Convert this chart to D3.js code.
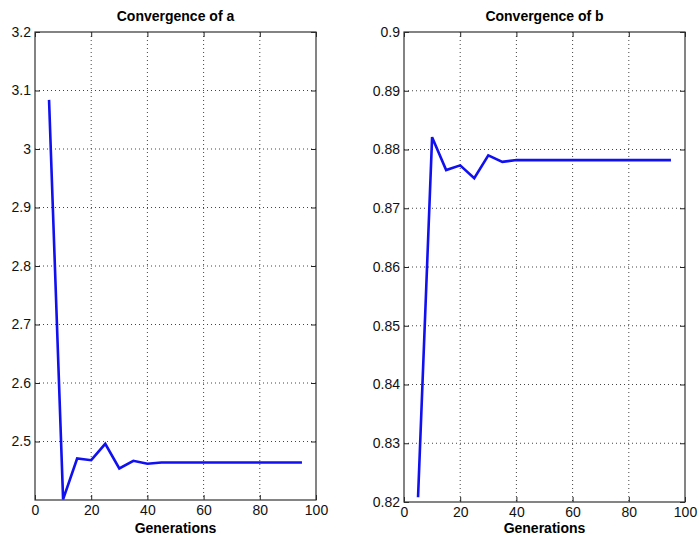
<!DOCTYPE html>
<html lang="en">
<head>
<meta charset="UTF-8">
<title>Convergence</title>
<script src="https://d3js.org/d3.v7.min.js"></script>
<style>
  body { margin: 0; background: #fff; }
  text { font-family: "Liberation Sans", Arial, sans-serif; }
</style>
</head>
<body>
<div id="chart"></div>
<script>
// generations sampled every 5
const generations = [5, 10, 15, 20, 25, 30, 35, 40, 45, 50, 55, 60, 65, 70, 75, 80, 85, 90, 95];
const valuesA = [3.084, 2.401, 2.471, 2.468, 2.496, 2.454, 2.467, 2.462, 2.464, 2.464, 2.464, 2.464, 2.464, 2.464, 2.464, 2.464, 2.464, 2.464, 2.464];
const valuesB = [0.8208, 0.8821, 0.8765, 0.8773, 0.8751, 0.8790, 0.8779, 0.8782, 0.8782, 0.8782, 0.8782, 0.8782, 0.8782, 0.8782, 0.8782, 0.8782, 0.8782, 0.8782, 0.8782];
const xTicks = [0, 20, 40, 60, 80, 100];
const yTicksA = [2.5, 2.6, 2.7, 2.8, 2.9, 3, 3.1, 3.2];
const yGridA = [2.5, 2.6, 2.7, 2.8, 2.9, 3, 3.1];
const yTicksB = [0.82, 0.83, 0.84, 0.85, 0.86, 0.87, 0.88, 0.89, 0.9];
const yGridB = [0.83, 0.84, 0.85, 0.86, 0.87, 0.88, 0.89];

const svg = d3.select("#chart").append("svg")
    .attr("width", 699)
    .attr("height", 535);

function panel(opts) {
    const { left, right, top, bottom, yDomain, values, yTicks, yGrid, title } = opts;
    const g = svg.append("g");

    const x = d3.scaleLinear().domain([0, 100]).range([left, right]);
    const y = d3.scaleLinear().domain(yDomain).range([bottom, top]);

    // dotted grid
    g.selectAll(".vgrid")
        .data([20, 40, 60, 80])
        .enter().append("line")
        .attr("x1", d => x(d)).attr("x2", d => x(d))
        .attr("y1", top).attr("y2", bottom)
        .attr("stroke", "#444").attr("stroke-width", 1)
        .attr("stroke-dasharray", "1,3");
    g.selectAll(".hgrid")
        .data(yGrid)
        .enter().append("line")
        .attr("x1", left).attr("x2", right)
        .attr("y1", d => y(d)).attr("y2", d => y(d))
        .attr("stroke", "#444").attr("stroke-width", 1)
        .attr("stroke-dasharray", "1,3");

    // axes with inward ticks (MATLAB style)
    g.append("g")
        .attr("transform", `translate(0,${bottom})`)
        .call(d3.axisBottom(x).tickValues(xTicks).tickSize(-5).tickPadding(5).tickFormat(d3.format("d")))
        .call(a => a.select(".domain").remove());
    g.append("g")
        .attr("transform", `translate(0,${top})`)
        .call(d3.axisTop(x).tickValues(xTicks).tickSize(-5).tickFormat(""))
        .call(a => a.select(".domain").remove());
    g.append("g")
        .attr("transform", `translate(${left},0)`)
        .call(d3.axisLeft(y).tickValues(yTicks).tickSize(-5).tickPadding(4).tickFormat(d => String(+d.toFixed(2))))
        .call(a => a.select(".domain").remove());
    g.append("g")
        .attr("transform", `translate(${right},0)`)
        .call(d3.axisRight(y).tickValues(yTicks).tickSize(-5).tickFormat(""))
        .call(a => a.select(".domain").remove());

    g.selectAll(".tick line").attr("stroke", "#222");
    g.selectAll(".tick text")
        .attr("font-size", 14)
        .attr("fill", "#111")
        .style("font-family", "'Liberation Sans', Arial, sans-serif");

    // box
    g.append("rect")
        .attr("x", left).attr("y", top)
        .attr("width", right - left).attr("height", bottom - top)
        .attr("fill", "none").attr("stroke", "#333").attr("stroke-width", 1.2);

    // series line
    const clipId = "clip-" + title.replace(/\s+/g, "");
    svg.append("clipPath").attr("id", clipId)
        .append("rect").attr("x", left).attr("y", top - 2)
        .attr("width", right - left).attr("height", bottom - top + 2);
    const line = d3.line()
        .x((d, i) => x(generations[i]))
        .y(d => y(d));
    g.append("path")
        .datum(values)
        .attr("clip-path", `url(#${clipId})`)
        .attr("fill", "none")
        .attr("stroke", "#1010f0")
        .attr("stroke-width", 2.6)
        .attr("stroke-linejoin", "miter")
        .attr("d", line);

    // title and x label
    g.append("text")
        .attr("x", (left + right) / 2).attr("y", 21)
        .attr("text-anchor", "middle")
        .attr("font-size", 14).attr("font-weight", "bold")
        .text(title);
    g.append("text")
        .attr("x", (left + right) / 2).attr("y", 533)
        .attr("text-anchor", "middle")
        .attr("font-size", 14).attr("font-weight", "bold")
        .text("Generations");
}

panel({ left: 35, right: 316, top: 32, bottom: 500, yDomain: [2.4, 3.2],
        values: valuesA, yTicks: yTicksA, yGrid: yGridA, title: "Convergence of a" });
panel({ left: 404, right: 685, top: 32, bottom: 502, yDomain: [0.82, 0.9],
        values: valuesB, yTicks: yTicksB, yGrid: yGridB, title: "Convergence of b" });
</script>
</body>
</html>
